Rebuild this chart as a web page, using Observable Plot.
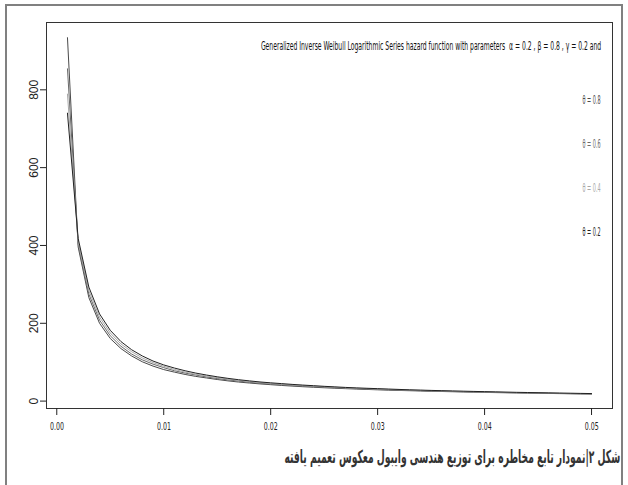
<!DOCTYPE html>
<html><head><meta charset="utf-8">
<script src="https://cdn.jsdelivr.net/npm/d3@7"></script>
<script src="https://cdn.jsdelivr.net/npm/@observablehq/plot@0.6"></script>
<style>
body{margin:0;background:#fff;}
#wrap{position:relative;width:628px;height:485px;overflow:hidden;background:#fff;}
#frame{position:absolute;left:5px;top:4px;width:618px;height:520px;border:2px solid #808080;box-sizing:border-box;pointer-events:none}
#chart{position:absolute;left:0;top:0}
</style></head><body>
<div id="wrap"><div id="chart"></div><div id="frame"></div></div>
<script>
// x grid (time)
const xs = [0.001,0.002,0.003,0.004,0.005,0.006,0.007,0.008,0.009,0.010,
            0.011,0.012,0.013,0.014,0.015,0.016,0.017,0.018,0.019,0.020,
            0.021,0.022,0.023,0.024,0.025,0.026,0.027,0.028,0.029,0.030,
            0.031,0.032,0.033,0.034,0.035,0.036,0.037,0.038,0.039,0.040,
            0.041,0.042,0.043,0.044,0.045,0.046,0.047,0.048,0.049,0.050];
// hazard values, one array per theta
const h08 = [934,396,266,200,161,135,116,101,90,81,
             74.5,68.5,63.5,59.5,55.5,52,49,46.5,44.2,42.2,
             40.3,38.6,37,35.6,34.3,33.1,32,31,30,29,
             28.2,27.4,26.7,26,25.3,24.7,24.1,23.5,23,22.4,
             21.9,21.4,21,20.5,20.1,19.7,19.3,18.9,18.5,18.2];
const h06 = [854,403,275,208,168,141,121,106,95,86,
             78,72,67,62,58,54.5,51.5,48.5,46,44,
             42,40,38.5,37,35.8,34.5,33.2,32,31,30,
             29.2,28.4,27.6,26.9,26.2,25.5,24.8,24.2,23.6,23,
             22.5,22,21.5,21,20.5,20.1,19.7,19.3,18.9,18.5];
const h04 = [789,410,284,216,175,147,127,111,99,89.5,
             81.5,74.5,69,64.5,60.5,56.5,53.5,50.5,48,45.5,
             43.5,41.5,40,38.5,37,35.5,34,33,32,31,
             30,29.2,28.4,27.6,26.8,26.1,25.4,24.8,24.2,23.6,
             23,22.5,22,21.5,21,20.6,20.2,19.8,19.4,19];
const h02 = [740,418,293,224,182,153,132,116,103,93,
             85,78,72,67,62.5,58.5,55,52,49.2,47,
             45,43,41.2,39.6,38,36.6,35.2,34,33,32,
             31,30,29,28.3,27.5,26.8,26.1,25.5,24.9,24.3,
             23.7,23.1,22.6,22.1,21.6,21.1,20.6,20.2,19.8,19.4];
const thetas = ["0.8","0.6","0.4","0.2"];
const lineColors = ["#4a4a4a","#6a6a6a","#a8a8a8","#222222"];
const xTicks = [0,0.01,0.02,0.03,0.04,0.05];
const yTicks = [0,200,400,600,800];
const titleText = "Generalized Inverse Weibull Logarithmic Series hazard function with parameters  \u03b1 = 0.2 , \u03b2 = 0.8 , \u03b3 = 0.2 and";
const captionText = "شکل ۲|نمودار تابع مخاطره برای توزیع هندسی وایبول معکوس تعمیم یافته";

const series = [h08,h06,h04,h02];
const rows = [];
series.forEach((s,k)=>s.forEach((v,i)=>rows.push({x:xs[i],h:v,theta:thetas[k]})));

const narrow = "'Liberation Sans Narrow','DejaVu Sans Condensed','Liberation Sans',Arial,sans-serif";
const legendText = t => "\u03b8 = " + t;
const fmtX = d3.format(".2f");

const legendMarks = thetas.map((t,i)=>Plot.text([t],{
  frameAnchor:"top-right", dx:-8, dy:73+44*i, text:legendText, fill:d=>d,
  fontSize:11.5, fontFamily:narrow, textAnchor:"end"
}));

const plot = Plot.plot({
  width:628, height:485,
  marginLeft:46, marginRight:16, marginTop:22, marginBottom:77,
  style:{background:"transparent", fontFamily:"'Liberation Sans',Arial,sans-serif", color:"#222", overflow:"visible"},
  x:{domain:[-0.00096,0.05196]},
  y:{domain:[-19,973]},
  color:{domain:thetas, range:lineColors},
  marks:[
    Plot.line(rows,{x:"x",y:"h",z:"theta",stroke:"theta",strokeWidth:1}),
    Plot.frame({stroke:"#333", strokeWidth:1}),
    Plot.axisY({ticks:yTicks, tickSize:6, tickPadding:3, tickRotate:-90, fontSize:12, label:null}),
    Plot.axisX({ticks:xTicks, tickFormat:fmtX, tickSize:7, tickPadding:7, fontSize:11, fontFamily:narrow, label:null}),
    Plot.text([titleText],{frameAnchor:"top-right", dx:-8, dy:19, fontSize:12, fontFamily:narrow, textAnchor:"end", fill:"#111"}),
    ...legendMarks,
    Plot.text([captionText],{frameAnchor:"bottom-right", dx:5, dy:54, fontSize:18, fontWeight:"bold", fontFamily:"'DejaVu Sans',sans-serif", textAnchor:"end", fill:"#333"})
  ]
});
document.getElementById("chart").appendChild(plot);

// condense wide texts horizontally about their anchor point
const xLabelSet = new Set(xTicks.map(fmtX));
const legendSet = new Set(thetas.map(legendText));
const svgRect = plot.getBoundingClientRect();
const NS = "http://www.w3.org/2000/svg";
d3.select(plot).selectAll("text").each(function(){
  const s = this.textContent;
  let len = null;
  if (s === titleText) len = 341;
  else if (s === captionText) len = 336;
  else if (legendSet.has(s)) len = 18;
  else if (xLabelSet.has(s)) len = 14;
  if (!len) return;
  const r = this.getBoundingClientRect();
  const w = r.width;
  if (w <= len) return;
  const ta = this.getAttribute("text-anchor") || this.parentNode.getAttribute("text-anchor") || "middle";
  let ax;
  if (ta === "end") ax = r.right - svgRect.left;
  else if (ta === "start") ax = r.left - svgRect.left;
  else ax = (r.left + r.right) / 2 - svgRect.left;
  const sx = len / w;
  const g = document.createElementNS(NS, "g");
  g.setAttribute("transform", `translate(${ax},0) scale(${sx},1) translate(${-ax},0)`);
  this.parentNode.insertBefore(g, this);
  g.appendChild(this);
});
</script>
</body></html>
